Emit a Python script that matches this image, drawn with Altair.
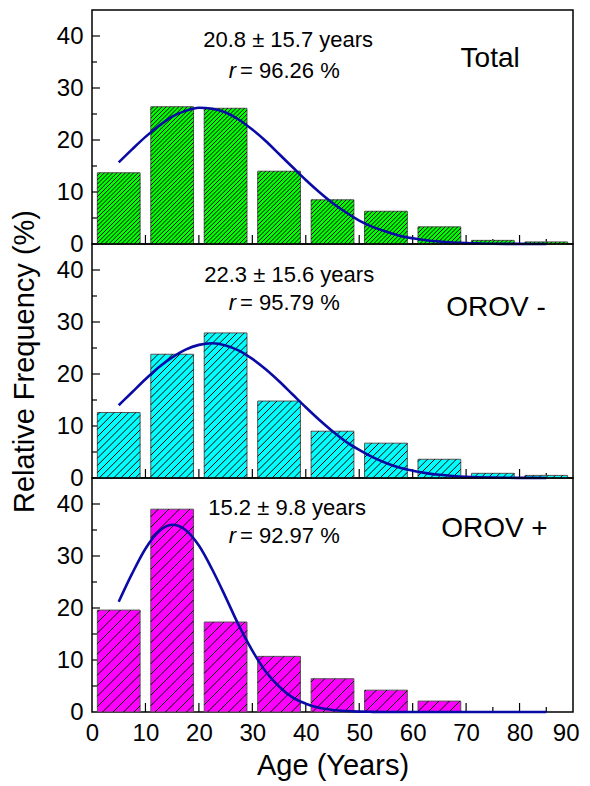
import math
import altair as alt
import pandas as pd

# ---------------- data ----------------
age_bins = [0, 10, 20, 30, 40, 50, 60, 70, 80]
freq_total = [13.7, 26.4, 26.1, 14.0, 8.5, 6.3, 3.3, 0.7, 0.4]
freq_neg = [12.6, 23.8, 27.9, 14.8, 9.0, 6.7, 3.6, 0.9, 0.5]
freq_pos = [19.6, 39.0, 17.3, 10.7, 6.4, 4.2, 2.1, 0.0, 0.0]

curve_age = [5, 7.5, 10, 12.5, 15, 17.5, 20, 22.5, 25, 27.5, 30, 32.5, 35, 37.5,
             40, 42.5, 45, 47.5, 50, 52.5, 55, 57.5, 60, 62.5, 65, 67.5, 70,
             72.5, 75, 77.5, 80, 82.5, 85]
curve_total = [15.7, 18.2, 20.6, 22.7, 24.5, 25.6, 26.2, 26.0, 25.3, 23.9, 22.0,
               19.8, 17.3, 14.8, 12.3, 10.0, 7.9, 6.1, 4.5, 3.3, 2.4, 1.6, 1.1,
               0.73, 0.47, 0.30, 0.18, 0.11, 0.06, 0.03, 0.02, 0.01, 0.0]
curve_neg = [14.0, 16.5, 19.0, 21.3, 23.2, 24.7, 25.6, 25.9, 25.5, 24.5, 22.9,
             20.9, 18.6, 16.1, 13.6, 11.2, 9.0, 7.0, 5.4, 4.0, 2.9, 2.0, 1.4,
             0.94, 0.61, 0.39, 0.24, 0.15, 0.09, 0.05, 0.03, 0.02, 0.01]
curve_pos = [21.2, 26.6, 31.4, 34.7, 36.0, 35.0, 32.0, 27.4, 22.1, 16.6, 11.8,
             7.8, 4.9, 2.8, 1.6, 0.80, 0.39, 0.18, 0.07, 0.03, 0.01, 0.0, 0.0,
             0.0, 0.0, 0.0, 0.0, 0.0, 0.0, 0.0, 0.0, 0.0, 0.0]

panel_names = ["Total", "OROV -", "OROV +"]
fit_means = ["20.8 \u00b1 15.7 years", "22.3 \u00b1 15.6 years", "15.2 \u00b1 9.8 years"]
fit_r = ["= 96.26 %", "= 95.79 %", "= 92.97 %"]

x_tick_labels = [0, 10, 20, 30, 40, 50, 60, 70, 80, 90]
y_tick_labels = [0, 10, 20, 30, 40]
x_major = [10, 20, 30, 40, 50, 60, 70, 80]
x_minor = [5, 15, 25, 35, 45, 55, 65, 75, 85]
y_major = [10, 20, 30, 40]
y_minor = [5, 15, 25, 35]

# ---------------- layout / style ----------------
W, H = 481, 234
X_DOM = [0, 90]
Y_DOM = [0, 45]
FONT = "Liberation Sans"
colors = ["#00FF00", "#00FFFF", "#FF00FF"]
hatch_step = [4.2, 7.2, 10.5]        # horizontal spacing of hatch lines (px)
hatch_width = [1.0, 1.0, 1.0]
# annotation positions (data units)
annot = [
    dict(mx=36.7, my=39.3, ry=33.2, lx=74.5, ly=35.5),
    dict(mx=36.9, my=39.0, ry=33.6, lx=75.6, ly=32.7),
    dict(mx=36.5, my=39.2, ry=33.9, lx=75.3, ly=35.2),
]
R_X = 27.7


def hatch_segments(starts, freqs, step):
    sx = W / (X_DOM[1] - X_DOM[0])
    sy = H / (Y_DOM[1] - Y_DOM[0])
    rows = []
    for s, f in zip(starts, freqs):
        x0, x1, top = (s + 1) * sx, (s + 9) * sx, f * sy
        if top <= 0.5:
            continue
        n0 = math.floor((x0 - top) / step) - 1
        n1 = math.ceil(x1 / step) + 1
        for n in range(n0, n1 + 1):
            b = n * step
            ys = max(0.0, x0 - b)
            ye = min(top, x1 - b)
            if ye > ys + 0.3:
                rows.append(dict(hx=(b + ys) / sx, hy=ys / sy,
                                 hx2=(b + ye) / sx, hy2=ye / sy))
    return pd.DataFrame(rows)


xscale = alt.Scale(domain=X_DOM, nice=False, zero=False)
yscale = alt.Scale(domain=Y_DOM, nice=False)


def make_panel(i, freqs, curve, bottom, ytitle):
    if bottom:
        xaxis = alt.Axis(values=x_tick_labels, labelFontSize=24, labelPadding=9,
                         ticks=False, domain=False, grid=False, labelFlush=False,
                         labelAlign={"expr": "datum.value == 90 ? 'right' : 'center'"},
                         labelOffset={"expr": "datum.value == 90 ? 6 : 0"},
                         title="Age (Years)", titleFontSize=29, titlePadding=6,
                         titleFontWeight="normal")
    else:
        xaxis = None
    yaxis = alt.Axis(values=y_tick_labels, labelFontSize=24, labelPadding=9,
                     ticks=False, domain=False, grid=False,
                     title=("Relative Frequency (%)" if ytitle else None),
                     titleFontSize=29, titlePadding=17, titleFontWeight="normal")

    def X(field):
        return alt.X(field, type="quantitative", scale=xscale, axis=xaxis)

    def Y(field):
        return alt.Y(field, type="quantitative", scale=yscale, axis=yaxis)

    bars_df = pd.DataFrame({"start": age_bins, "freq": freqs})
    curve_df = pd.DataFrame({"age": curve_age, "fit": curve})
    hatch_df = hatch_segments(age_bins, freqs, hatch_step[i])

    xt_major = alt.Chart(pd.DataFrame({"t": x_major})).mark_rule(
        color="black", strokeWidth=1.2).encode(
        x=X("t"), y=alt.value(H), y2=alt.value(H - 9))
    xt_minor = alt.Chart(pd.DataFrame({"t": x_minor})).mark_rule(
        color="black", strokeWidth=1.2).encode(
        x=X("t"), y=alt.value(H), y2=alt.value(H - 5))
    yt_major = alt.Chart(pd.DataFrame({"t": y_major})).mark_rule(
        color="black", strokeWidth=1.2).encode(
        y=Y("t"), x=alt.value(0), x2=alt.value(8))
    yt_minor = alt.Chart(pd.DataFrame({"t": y_minor})).mark_rule(
        color="black", strokeWidth=1.2).encode(
        y=Y("t"), x=alt.value(0), x2=alt.value(5))

    bars = alt.Chart(bars_df).transform_filter(
        alt.datum.freq > 0).transform_calculate(
        x0="datum.start + 1", x1="datum.start + 9", base="0").mark_rect(
        fill=colors[i], stroke="#555555", strokeWidth=1).encode(
        x=X("x0:Q"), x2="x1:Q", y=Y("base:Q"), y2="freq:Q")

    hatch = alt.Chart(hatch_df).mark_rule(
        color="black", strokeWidth=hatch_width[i]).encode(
        x=X("hx"), x2="hx2", y=Y("hy"), y2="hy2")

    line = alt.Chart(curve_df).mark_line(
        color="#0A0AA5", strokeWidth=2.6, interpolate="monotone").encode(
        x=X("age"), y=Y("fit"))

    a = annot[i]
    txt_df = pd.DataFrame({
        "tx": [a["mx"], R_X, R_X, a["lx"]],
        "ty": [a["my"], a["ry"], a["ry"], a["ly"]],
        "label": [fit_means[i], fit_r[i], "r", panel_names[i]],
        "kind": ["mean", "r", "ritalic", "name"],
    })
    base_txt = alt.Chart(txt_df)
    t_mean = base_txt.transform_filter(alt.datum.kind == "mean").mark_text(
        font=FONT, fontSize=22, color="black", align="center",
        baseline="middle").encode(x=X("tx"), y=Y("ty"), text="label:N")
    t_r = base_txt.transform_filter(alt.datum.kind == "r").mark_text(
        font=FONT, fontSize=22, color="black", align="left",
        baseline="middle").encode(x=X("tx"), y=Y("ty"), text="label:N")
    t_ri = base_txt.transform_filter(alt.datum.kind == "ritalic").mark_text(
        font=FONT, fontSize=22, fontStyle="italic", color="black",
        align="right", baseline="middle", dx=-4).encode(
        x=X("tx"), y=Y("ty"), text="label:N")
    t_name = base_txt.transform_filter(alt.datum.kind == "name").mark_text(
        font=FONT, fontSize=28, color="black", align="center",
        baseline="middle").encode(x=X("tx"), y=Y("ty"), text="label:N")

    return alt.layer(xt_major, xt_minor, yt_major, yt_minor, bars, hatch, line,
                     t_mean, t_r, t_ri, t_name).properties(width=W, height=H)


p1 = make_panel(0, freq_total, curve_total, bottom=False, ytitle=False)
p2 = make_panel(1, freq_neg, curve_neg, bottom=False, ytitle=True)
p3 = make_panel(2, freq_pos, curve_pos, bottom=True, ytitle=False)

chart = alt.vconcat(p1, p2, p3, spacing=0, bounds="flush").properties(
    padding={"left": 1, "top": 1, "right": 0, "bottom": 0},
    background="white",
).configure_view(
    stroke="black", strokeWidth=1.5
).configure_axis(
    labelFont=FONT, titleFont=FONT, labelColor="black", titleColor="black"
)

chart.save("out.html", embed_options={"renderer": "svg", "actions": False})
